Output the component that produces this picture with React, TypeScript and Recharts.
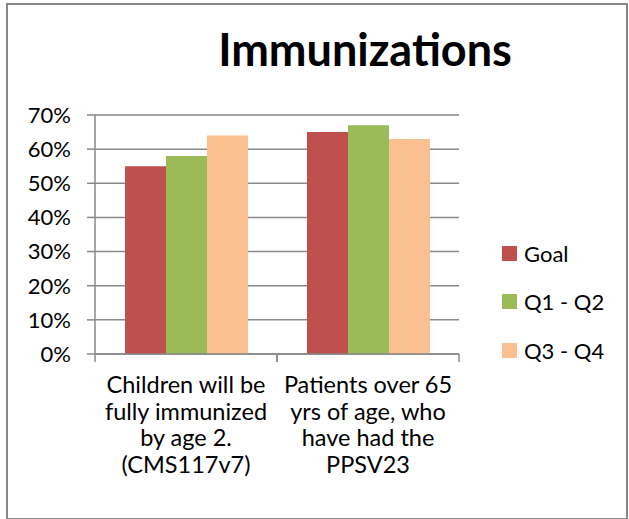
import { BarChart, Bar, XAxis, YAxis, CartesianGrid } from "recharts"

// categorias (linhas do rótulo do eixo X)
const categorias: string[][] = [
  ["Children will be", "fully immunized", "by age 2.", "(CMS117v7)"],
  ["Patients over 65", "yrs of age, who", "have had the", "PPSV23"],
]

const goal = [0.55, 0.65]
const q1q2 = [0.58, 0.67]
const q3q4 = [0.64, 0.63]

const yTicks = [0, 0.1, 0.2, 0.3, 0.4, 0.5, 0.6, 0.7]

const series = [
  { key: "goal", name: "Goal", color: "#C0504D" },
  { key: "q1q2", name: "Q1 - Q2", color: "#9BBB59" },
  { key: "q3q4", name: "Q3 - Q4", color: "#FAC090" },
]

const data = categorias.map((linhas, i) => ({
  cat: linhas.join(" "),
  goal: goal[i],
  q1q2: q1q2[i],
  q3q4: q3q4[i],
}))

const FONT = "Lato, 'Open Sans', sans-serif"
const GRID = "#898989"

const CategoryTick = ({ x, y, index }: any) => {
  const linhas = categorias[index] || []
  const half = 91
  return (
    <g>
      <line x1={x - half} x2={x - half} y1={y} y2={y + 8} stroke={GRID} strokeWidth={1.5} />
      <line x1={x + half} x2={x + half} y1={y} y2={y + 8} stroke={GRID} strokeWidth={1.5} />
      <text x={x} y={y} textAnchor="middle" fontFamily={FONT} fontSize={23.5} fill="#000">
        {linhas.map((l, i) => (
          <tspan key={i} x={x} y={y + 39 + i * 26.5}>
            {l}
          </tspan>
        ))}
      </text>
    </g>
  )
}

export default function App() {
  return (
    <div style={{ position: "relative", width: 629, height: 519, background: "#fff" }}>
      <style>{`body{margin:0}`}</style>
      <div
        style={{
          position: "absolute",
          left: 6,
          top: 3,
          width: 618,
          height: 513,
          border: "2px solid #878787",
        }}
      />
      <div
        style={{
          position: "absolute",
          left: 165,
          width: 400,
          top: 22,
          textAlign: "center",
          fontFamily: FONT,
          fontWeight: 700,
          fontSize: 45,
          lineHeight: "54px",
          color: "#000",
        }}
      >
        Immunizations
      </div>
      <BarChart
        width={629}
        height={519}
        data={data}
        margin={{ top: 115, right: 170, bottom: 0, left: 0 }}
        barCategoryGap={30}
        barGap={0}
        style={{ position: "absolute", left: 0, top: 0 }}
      >
        <CartesianGrid vertical={false} stroke={GRID} strokeWidth={1.5} />
        <XAxis
          dataKey="cat"
          height={165}
          axisLine={{ stroke: GRID, strokeWidth: 1.5 }}
          tickLine={false}
          tickSize={0}
          tickMargin={0}
          interval={0}
          tick={<CategoryTick />}
        />
        <YAxis
          width={95}
          domain={[0, 0.7]}
          ticks={yTicks}
          interval={0}
          tickFormatter={(v) => `${Math.round(v * 100)}%`}
          axisLine={{ stroke: GRID, strokeWidth: 1.5 }}
          tickLine={{ stroke: GRID, strokeWidth: 1.5 }}
          tickSize={8}
          tickMargin={16}
          tick={{ fontFamily: FONT, fontSize: 22, fill: "#000" }}
        />
        {series.map((s) => (
          <Bar key={s.key} dataKey={s.key} name={s.name} fill={s.color} isAnimationActive={false} />
        ))}
      </BarChart>
      <div style={{ position: "absolute", left: 502, top: 239 }}>
        {series.map((s) => (
          <div
            key={s.key}
            style={{
              display: "flex",
              alignItems: "center",
              height: 28,
              marginBottom: 20.5,
              fontFamily: FONT,
              fontSize: 22,
              color: "#000",
            }}
          >
            <span style={{ width: 15, height: 15, background: s.color, marginRight: 7 }} />
            {s.name}
          </div>
        ))}
      </div>
    </div>
  )
}
